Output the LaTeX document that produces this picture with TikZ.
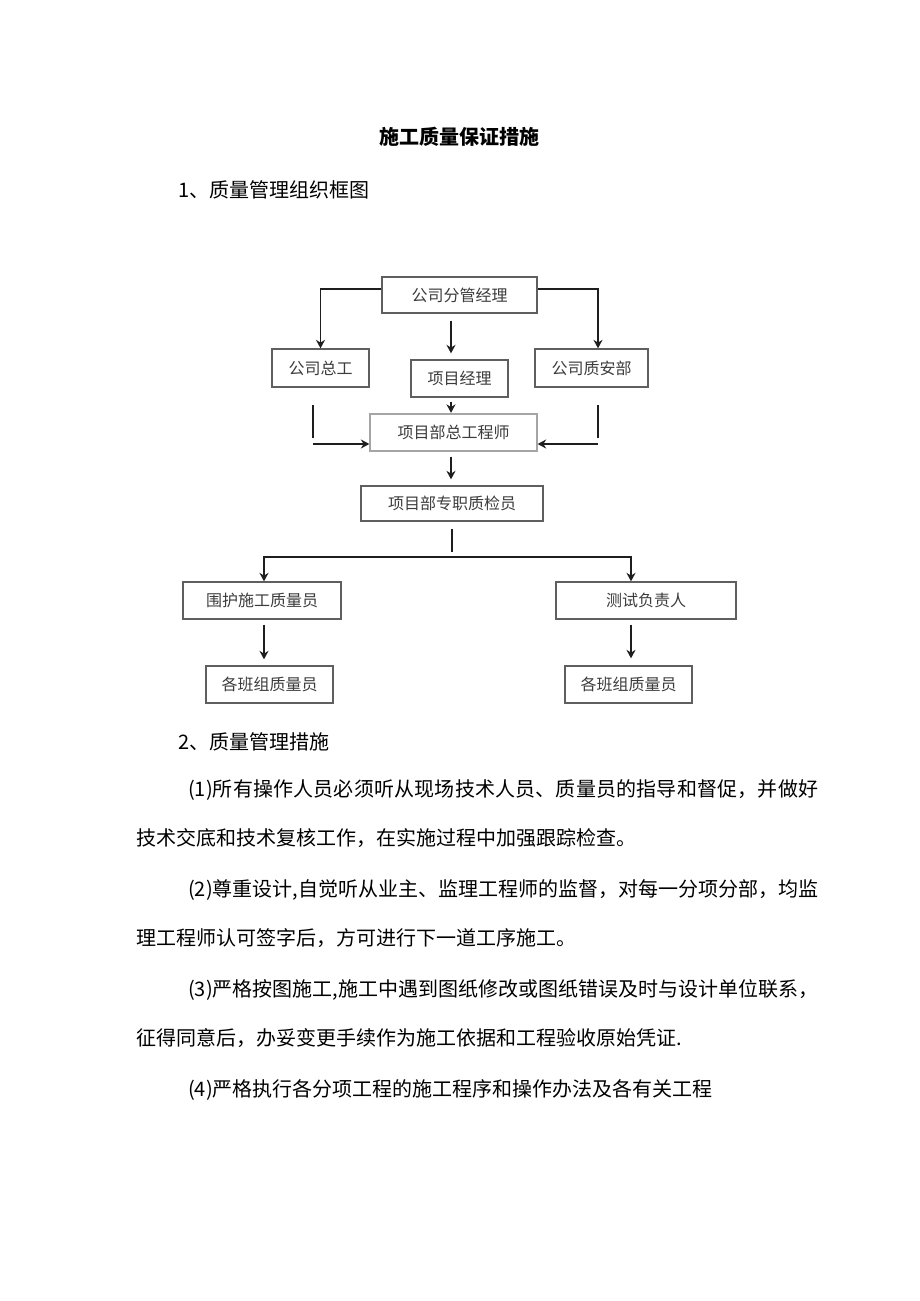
\documentclass[tikz,border=0pt]{standalone}
\usepackage{fontspec}
\setmainfont{Noto Sans CJK SC}
\usetikzlibrary{arrows.meta}
\definecolor{boxline}{RGB}{95,95,95}
\definecolor{boxlight}{RGB}{165,165,165}
\definecolor{boxtext}{RGB}{60,60,60}
\definecolor{arrowc}{RGB}{30,30,30}
\def\myspread#1{\myspreadloop#1\relax}
\def\myspreadloop#1{\ifx#1\relax\else#1\hskip 0pt plus 1fil\relax\expandafter\myspreadloop\fi}
\begin{document}
\begin{tikzpicture}[x=1pt,y=-1pt,
  box/.style={draw=boxline, line width=1.3pt, inner sep=0pt, text=boxtext,
    font=\fontsize{16}{18}\selectfont},
  arr/.style={draw=arrowc, line width=1.7pt, -{Stealth[length=8.5pt,width=9pt]}},
  ln/.style={draw=arrowc, line width=1.7pt},
  para/.style={anchor=west, inner sep=0pt, font=\fontsize{20}{24}\selectfont}]
\fill[white] (0,0) rectangle (920,1301);
\useasboundingbox (0,0) rectangle (920,1301);

% headings
\node[inner sep=0pt, font=\fontsize{20}{24}\selectfont\bfseries] (title) at (459,137) {施工质量保证措施};
\node[para] (h1) at (178,190) {1、质量管理组织框图};

% boxes
\node[box, minimum width=155pt, minimum height=36pt] (A) at (459.5,295) {公司分管经理};
\node[box, minimum width=97pt, minimum height=38pt] (B) at (320.5,368) {公司总工};
\node[box, minimum width=97pt, minimum height=37pt] (C) at (459.5,378.5) {项目经理};
\node[box, minimum width=113pt, minimum height=38pt] (D) at (591.5,368) {公司质安部};
\node[box, draw=boxlight, minimum width=167pt, minimum height=37pt] (E) at (453.5,432.5) {项目部总工程师};
\node[box, minimum width=182pt, minimum height=35pt] (F) at (452,503.5) {项目部专职质检员};
\node[box, minimum width=158pt, minimum height=37pt] (G) at (262,600.5) {围护施工质量员};
\node[box, minimum width=180pt, minimum height=37pt] (H) at (646,600.5) {测试负责人};
\node[box, minimum width=127pt, minimum height=37pt] (I) at (269.5,684.5) {各班组质量员};
\node[box, minimum width=127pt, minimum height=37pt] (J) at (628.5,684.5) {各班组质量员};

% connectors, upper part
\draw[arr] ([yshift=6pt]A.west) -| (B.north);
\draw[arr] ([yshift=6pt]A.east) -| ([xshift=6.5pt]D.north);
\draw[arr, shorten <=7pt, shorten >=6pt] ([xshift=-8.5pt]A.south) -- ([xshift=-8.5pt]C.north);
\draw[arr, shorten <=4pt, shorten >=0.5pt] ([xshift=-8.5pt]C.south) -- ([xshift=-8.5pt]C.south |- E.north);

\coordinate (l1) at (313,405);
\coordinate (l2) at (313,438);
\coordinate (l3) at (313,444);
\coordinate (r1) at (598,405);
\coordinate (r2) at (598,438);
\coordinate (r3) at (598,444);
\draw[ln] (l1) -- (l2);
\draw[ln] (r1) -- (r2);
\draw[arr] (l3) -- (E.west |- l3);
\draw[arr] (r3) -- (E.east |- r3);

\draw[arr, shorten <=5pt, shorten >=6pt] ([xshift=-1pt]F.north |- E.south) -- ([xshift=-1pt]F.north);

% connectors, lower part
\coordinate (hm) at (452,557);
\draw[ln, shorten <=7pt, shorten >=5pt] (F.south) -- (F.south |- hm);
\draw[arr] (hm) -| ([xshift=2pt]G.north);
\draw[arr] (hm) -| ([xshift=-15pt]H.north);
\draw[arr, shorten <=5pt, shorten >=6pt] ([xshift=2pt]G.south) -- ([xshift=2pt]G.south |- I.north);
\draw[arr, shorten <=5pt, shorten >=7pt] ([xshift=2.5pt]J.north |- H.south) -- ([xshift=2.5pt]J.north);

% text section 2
\node[para] (h2) at (178,742) {2、质量管理措施};
\node[para] (p1a) at (188,790) {\makebox[630pt][s]{(1)\myspread{所有操作人员必须听从现场技术人员、质量员的指导和督促，并做好}\unskip}};
\node[para] (p1b) at (136,838) {技术交底和技术复核工作，在实施过程中加强跟踪检查。};
\node[para] (p2a) at (188,890) {\makebox[630pt][s]{(2)\myspread{尊重设计,自觉听从业主、监理工程师的监督，对每一分项分部，均监}\unskip}};
\node[para] (p2b) at (136,938) {理工程师认可签字后，方可进行下一道工序施工。};
\node[para] (p3a) at (188,990) {\makebox[630pt][s]{(3)\myspread{严格按图施工,施工中遇到图纸修改或图纸错误及时与设计单位联系，}\unskip}};
\node[para] (p3b) at (136,1038) {征得同意后，办妥变更手续作为施工依据和工程验收原始凭证.};
\node[para] (p4a) at (188,1090) {(4)严格执行各分项工程的施工程序和操作办法及各有关工程};
\end{tikzpicture}
\end{document}
